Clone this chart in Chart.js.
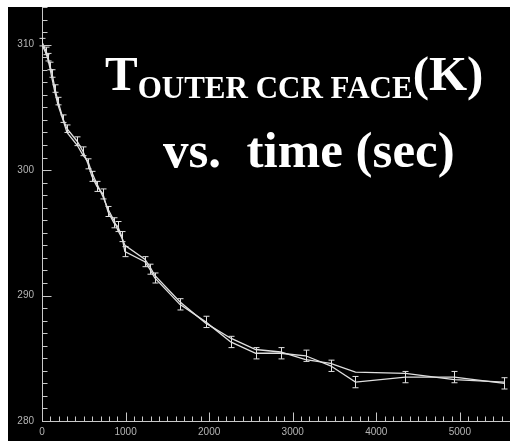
<!DOCTYPE html>
<html>
<head>
<meta charset="utf-8">
<script src="https://cdn.jsdelivr.net/npm/chart.js@4/dist/chart.umd.min.js"></script>
<style>
  html, body { margin: 0; padding: 0; background: #fff; }
  #wrap { width: 510px; height: 441px; }
</style>
</head>
<body>
<div id="wrap"><canvas id="grafico" width="510" height="441"></canvas></div>
<script>
// dados
var tempos = [0, 48, 72, 96, 120, 155, 191, 251, 299, 420, 490, 550, 597, 657, 729, 789, 860, 908, 956, 992,
              1230, 1290, 1350, 1649, 1959, 2258, 2557, 2855, 3154, 3453, 3751, 4349, 4934, 5532];
var corridaA = [310.2, 309.5, 309.0, 308.3, 307.7, 306.5, 305.5, 304.1, 303.3, 302.3, 301.5, 300.5, 299.5, 298.7,
                298.1, 296.7, 295.8, 295.5, 294.7, 293.5, 292.7, 292.1, 291.4, 289.3, 287.9, 286.3, 285.4, 285.4,
                285.2, 284.4, 283.1, 283.5, 283.5, 283.0];
var corridaB = [310.0, 309.3, 308.8, 308.1, 307.3, 306.2, 305.2, 304.0, 303.0, 302.0, 301.2, 300.7, 299.8, 298.9,
                297.9, 296.9, 296.0, 295.2, 294.6, 294.0, 292.9, 292.3, 291.6, 289.5, 287.8, 286.6, 285.7, 285.5,
                284.9, 284.6, 283.9, 283.8, 283.3, 283.1];
var erroA = [0.3, 0.3, 0.3, 0.3, 0.3, 0.3, 0.3, 0.3, 0.3, 0.35, 0.35, 0.4, 0.4, 0.4, 0.4, 0.4, 0.4, 0.4, 0.4, 0.4,
             0.4, 0.4, 0.4, 0.45, 0.45, 0.45, 0.45, 0.45, 0.45, 0.45, 0.45, 0.45, 0.45, 0.45];
var ticksX = [0, 1000, 2000, 3000, 4000, 5000];
var ticksY = [280, 290, 300, 310];

var corLinha = '#e0e0e0';
var corEixo = '#c8c8c8';

function pontos(serie) {
    return tempos.map(function (t, i) { return { x: t, y: serie[i] }; });
}

// fundo preto com borda branca
var fundo = {
    id: 'fundo',
    beforeDraw: function (chart) {
        var ctx = chart.ctx;
        ctx.save();
        ctx.fillStyle = '#fff';
        ctx.fillRect(0, 0, chart.width, chart.height);
        ctx.fillStyle = '#000';
        ctx.fillRect(8, 7, chart.width - 8, chart.height - 7);
        ctx.restore();
    }
};

// barras de erro + tiques menores para dentro
var extras = {
    id: 'extras',
    afterDatasetsDraw: function (chart) {
        var ctx = chart.ctx;
        var sx = chart.scales.x, sy = chart.scales.y;
        ctx.save();
        ctx.strokeStyle = corLinha;
        ctx.lineWidth = 1;
        for (var i = 0; i < tempos.length; i++) {
            var px = Math.round(sx.getPixelForValue(tempos[i])) + 0.5;
            var y1 = sy.getPixelForValue(corridaA[i] - erroA[i]);
            var y2 = sy.getPixelForValue(corridaA[i] + erroA[i]);
            ctx.beginPath();
            ctx.moveTo(px, y1); ctx.lineTo(px, y2);
            ctx.moveTo(px - 3, y1); ctx.lineTo(px + 3, y1);
            ctx.moveTo(px - 3, y2); ctx.lineTo(px + 3, y2);
            ctx.stroke();
        }
        ctx.strokeStyle = corEixo;
        var base = Math.round(sy.getPixelForValue(280)) + 0.5;
        for (var v = 100; v <= 5600; v += 100) {
            var x = Math.round(sx.getPixelForValue(v)) + 0.5;
            var len = (v % 1000 === 0) ? 9 : 5;
            ctx.beginPath(); ctx.moveTo(x, base); ctx.lineTo(x, base - len); ctx.stroke();
        }
        var esq = Math.round(sx.getPixelForValue(0)) + 0.5;
        for (var k = 281; k <= 313; k++) {
            var y = Math.round(sy.getPixelForValue(k)) + 0.5;
            var l = (k % 10 === 0) ? 9 : 5;
            ctx.beginPath(); ctx.moveTo(esq, y); ctx.lineTo(esq + l, y); ctx.stroke();
        }
        ctx.restore();
    }
};

// título com subscrito
var titulo = {
    id: 'titulo',
    afterDraw: function (chart) {
        var ctx = chart.ctx;
        ctx.save();
        ctx.fillStyle = '#fff';
        ctx.textBaseline = 'alphabetic';
        var x = 105;
        ctx.font = 'bold 49px "Liberation Serif"';
        ctx.fillText('T', x, 90);
        x += ctx.measureText('T').width;
        ctx.font = 'bold 31px "Liberation Serif"';
        ctx.fillText('OUTER CCR FACE', x, 98);
        x += ctx.measureText('OUTER CCR FACE').width;
        ctx.font = 'bold 49px "Liberation Serif"';
        ctx.fillText('(K)', x, 90);
        ctx.font = 'bold 51px "Liberation Serif"';
        ctx.fillText('vs.  time (sec)', 163, 167);
        ctx.restore();
    }
};

var ctx = document.getElementById('grafico').getContext('2d');
var meuGrafico = new Chart(ctx, {
    type: 'line',
    data: {
        datasets: [{
            data: pontos(corridaA),
            borderColor: corLinha,
            borderWidth: 1.3,
            pointRadius: 0,
            fill: false,
            tension: 0
        }, {
            data: pontos(corridaB),
            borderColor: corLinha,
            borderWidth: 1.3,
            pointRadius: 0,
            fill: false,
            tension: 0
        }]
    },
    options: {
        responsive: false,
        animation: false,
        layout: { padding: { top: 7, left: 0, right: 0, bottom: 0 } },
        plugins: { legend: { display: false }, title: { display: false }, tooltip: { enabled: false } },
        scales: {
            x: {
                type: 'linear',
                min: 0,
                max: 5600,
                afterFit: function (s) { s.height = 20; s.paddingLeft = 0; s.paddingRight = 0; },
                afterBuildTicks: function (s) { s.ticks = ticksX.map(function (v) { return { value: v }; }); },
                grid: { display: false, drawTicks: false },
                border: { color: corEixo, width: 1 },
                ticks: {
                    color: '#b4b4b4', font: { family: 'Liberation Sans', size: 10 }, padding: 5, maxRotation: 0,
                    callback: function (v) { return String(v); }
                }
            },
            y: {
                type: 'linear',
                min: 280,
                max: 313,
                afterFit: function (s) { s.width = 42; s.paddingTop = 0; s.paddingBottom = 0; },
                afterBuildTicks: function (s) { s.ticks = ticksY.map(function (v) { return { value: v }; }); },
                grid: { display: false, drawTicks: false },
                border: { color: corEixo, width: 1 },
                ticks: {
                    color: '#b4b4b4', font: { family: 'Liberation Sans', size: 10 }, padding: 8,
                    callback: function (v) { return String(v); }
                }
            }
        }
    },
    plugins: [fundo, extras, titulo]
});
</script>
</body>
</html>
